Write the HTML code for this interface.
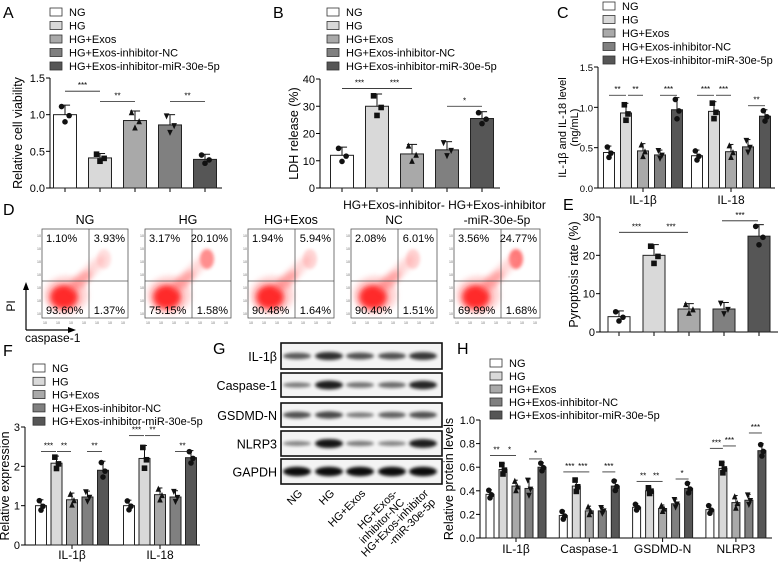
<!DOCTYPE html>
<html><head><meta charset="utf-8">
<style>
body{margin:0;background:#fff;}
svg{display:block;font-family:"Liberation Sans",Arial,sans-serif;}
</style></head>
<body>
<svg id="fig" width="780" height="562" viewBox="0 0 780 562" xmlns="http://www.w3.org/2000/svg">
<defs>
<filter id="blur" x="-50%" y="-50%" width="200%" height="200%"><feGaussianBlur stdDeviation="3"/></filter>
<filter id="blur2" x="-50%" y="-50%" width="200%" height="200%"><feGaussianBlur stdDeviation="1.6"/></filter>
</defs>
</svg>
<script>
const NS="http://www.w3.org/2000/svg";
const fig=document.getElementById('fig');
const groupNames=["NG","HG","HG+Exos","HG+Exos-inhibitor-NC","HG+Exos-inhibitor-miR-30e-5p"];
const colors=["#ffffff","#d9d9d9","#a9a9a9","#808080","#565656"];
const markers=["circle","square","triangle","tri-down","circle"];

// Panel A data
const aValues=[1.0,0.41,0.92,0.86,0.39];
const aErr=[0.13,0.06,0.13,0.14,0.07];
const aTicks=[0,0.5,1.0,1.5];
const aTickLabels=["0.0","0.5","1.0","1.5"];
// Panel B data
const bValues=[12,30,12.5,14,25.5];
const bErr=[3,4.5,3.5,3,2.5];
const bTicks=[0,10,20,30,40];
// Panel C data
const cCategories=["IL-1β","IL-18"];
const cValues=[[0.44,0.93,0.46,0.41,0.97],[0.40,0.95,0.45,0.51,0.89]];
const cErr=[[0.08,0.12,0.09,0.06,0.15],[0.07,0.12,0.09,0.09,0.08]];
const cTicks=[0,0.5,1.0,1.5];
const cTickLabels=["0.0","0.5","1.0","1.5"];
// Panel D data
const dTitles=[["NG"],["HG"],["HG+Exos"],["HG+Exos-inhibitor-","NC"],["HG+Exos-inhibitor","-miR-30e-5p"]];
const dUL=["1.10%","3.17%","1.94%","2.08%","3.56%"];
const dUR=["3.93%","20.10%","5.94%","6.01%","24.77%"];
const dLL=["93.60%","75.15%","90.48%","90.40%","69.99%"];
const dLR=["1.37%","1.58%","1.64%","1.51%","1.68%"];
// Panel E data
const eValues=[4,20,6,6,25];
const eErr=[1.5,2.8,1.4,1.7,3];
const eTicks=[0,10,20,30];
// Panel F data
const fCategories=["IL-1β","IL-18"];
const fValues=[[1.0,2.08,1.15,1.22,1.9],[1.0,2.2,1.28,1.22,2.22]];
const fErr=[[0.15,0.18,0.17,0.15,0.23],[0.14,0.33,0.17,0.16,0.18]];
const fTicks=[0,1,2,3];
// Panel G data
const gProteins=["IL-1β","Caspase-1","GSDMD-N","NLRP3","GAPDH"];
const gBandIntensity=[[0.55,0.8,0.6,0.6,0.75],[0.35,0.9,0.4,0.45,0.85],[0.6,0.65,0.35,0.5,0.6],[0.3,0.95,0.35,0.3,0.9],[1,1,1,1,1]];
// Panel H data
const hCategories=["IL-1β","Caspase-1","GSDMD-N","NLRP3"];
const hValues=[[0.37,0.58,0.44,0.42,0.60],[0.19,0.44,0.23,0.23,0.44],[0.26,0.40,0.25,0.29,0.42],[0.24,0.59,0.30,0.32,0.74]];
const hErr=[[0.04,0.05,0.05,0.08,0.04],[0.04,0.06,0.04,0.03,0.05],[0.03,0.03,0.03,0.04,0.05],[0.04,0.05,0.06,0.05,0.06]];
const hTicks=[0,0.2,0.4,0.6,0.8,1.0];
const hTickLabels=["0.0","0.2","0.4","0.6","0.8","1.0"];

function el(tag,attrs,parent){const e=document.createElementNS(NS,tag);for(const k in attrs)e.setAttribute(k,attrs[k]);(parent||fig).appendChild(e);return e;}
function txt(x,y,s,size,anchor,parent,extra){const t=el('text',Object.assign({x:x,y:y,'font-size':size,'text-anchor':anchor||'start',fill:'#000'},extra||{}),parent);t.textContent=s;return t;}

function panelLetter(x,y,s){const t=txt(x,y,s,16,'start');}

function legend(x,y0,dy){
  const g=el('g',{});
  
  
  for(let i=0;i<5;i++){
    const y=y0+i*dy;
    const r=el('rect',{x:x,y:y-7,width:12,height:8,fill:colors[i],stroke:'#333','stroke-width':0.8},g);
    
    
    const t=txt(x+19,y+1,groupNames[i],11,'start',g);
    
    
  }
}

function marker(type,x,y,g){
  const s=2.8;
  if(type==='circle') el('circle',{cx:x,cy:y,r:s,fill:'#111'},g);
  else if(type==='square') el('rect',{x:x-s,y:y-s,width:2*s,height:2*s,fill:'#111'},g);
  else if(type==='triangle') el('polygon',{points:`${x},${y-s-0.5} ${x-s},${y+s} ${x+s},${y+s}`,fill:'#111'},g);
  else el('polygon',{points:`${x},${y+s+0.5} ${x-s},${y-s} ${x+s},${y-s}`,fill:'#111'},g);
}

function yAxis(ax,ticks,labels,title,titleX,tickSize,titleSize){
  tickSize=tickSize||11;titleSize=titleSize||12.5;
  const g=el('g',{});
  
  
  el('line',{x1:ax.x0,y1:ax.y(ticks[0]),x2:ax.x0,y2:ax.y(ticks[ticks.length-1]),stroke:'#000','stroke-width':1},g);
  ticks.forEach((v,i)=>{
    el('line',{x1:ax.x0-4,y1:ax.y(v),x2:ax.x0,y2:ax.y(v),stroke:'#000'},g);
    txt(ax.x0-5,ax.y(v)+4,labels?labels[i]:String(v),tickSize,'end',g);
  });
  const cy=(ax.y(ticks[0])+ax.y(ticks[ticks.length-1]))/2;
  if(Array.isArray(title)){
    const t=txt(titleX,cy,title[0],titleSize,'middle',g,{transform:`rotate(-90 ${titleX} ${cy})`});
    
    
    const t2=txt(titleX+12,cy,title[1],titleSize,'middle',g,{transform:`rotate(-90 ${titleX+12} ${cy})`});
    
    
  } else {
    const t=txt(titleX,cy,title,titleSize,'middle',g,{transform:`rotate(-90 ${titleX} ${cy})`});
    
    
  }
}

function bar(ax,cx,w,v,err,i,g,name){
  const y0=ax.y(0),y=ax.y(v);
  const r=el('rect',{x:cx-w/2,y:y,width:w,height:y0-y,fill:colors[i],stroke:'#222','stroke-width':1},g);
  
  
  const ye=ax.y(v+err);
  el('line',{x1:cx,y1:y,x2:cx,y2:ye,stroke:'#111','stroke-width':1},g);
  el('line',{x1:cx-w*0.22,y1:ye,x2:cx+w*0.22,y2:ye,stroke:'#111','stroke-width':1},g);
  const pts=[v+err*0.85,v-err*0.1,v-err*0.75];
  const dx=[-0.5,0.6,0];
  pts.forEach((p,k)=>marker(markers[i],cx+dx[k]*w*0.3,ax.y(p),g));
}

function sig(x1,x2,y,s,g){
  el('line',{x1:x1,y1:y,x2:x2,y2:y,stroke:'#222','stroke-width':0.8},g);
  txt((x1+x2)/2,y-3,s,8,'middle',g);
}

// ---------- Panel A ----------
panelLetter(3,18,'A');
legend(50,15,13.5);
(function(){
  const ax={x0:50,y:v=>188-v/1.5*110};
  yAxis(ax,aTicks,aTickLabels,'Relative cell viability',22);
  const g=el('g',{});
  const xs=i=>65+i*35;
  el('line',{x1:50,y1:188,x2:222,y2:188,stroke:'#000'},g);
  aValues.forEach((v,i)=>{el('line',{x1:xs(i),y1:188,x2:xs(i),y2:192,stroke:'#000'},g);bar(ax,xs(i),23,v,aErr[i],i,g,'bar-a-'+i);});
  sig(65,100,ax.y(1.32),'***',g);sig(100,135,ax.y(1.18),'**',g);sig(170,205,ax.y(1.18),'**',g);
})();

// ---------- Panel B ----------
panelLetter(273,18,'B');
legend(327,15,13.5);
(function(){
  const ax={x0:320,y:v=>188-v/40*109};
  yAxis(ax,bTicks,null,'LDH release (%)',298);
  const g=el('g',{});
  const xs=i=>342+i*35;
  el('line',{x1:320,y1:188,x2:500,y2:188,stroke:'#000'},g);
  bValues.forEach((v,i)=>{el('line',{x1:xs(i),y1:188,x2:xs(i),y2:192,stroke:'#000'},g);bar(ax,xs(i),23,v,bErr[i],i,g,'bar-b-'+i);});
  sig(342,377,ax.y(36.5),'***',g);sig(377,412,ax.y(36.5),'***',g);sig(447,482,ax.y(30),'*',g);
})();

// ---------- Panel C ----------
panelLetter(557,18,'C');
legend(603,9,13.5);
(function(){
  const ax={x0:598,y:v=>188-v/1.5*121};
  yAxis(ax,cTicks,cTickLabels,['IL-1β and IL-18 level','(ng/mL)'],566,9.5,11);
  const g=el('g',{});
  el('line',{x1:598,y1:188,x2:775,y2:188,stroke:'#000'},g);
  cCategories.forEach((c,k)=>{
    const base=609+k*88;
    cValues[k].forEach((v,i)=>bar(ax,base+i*17,11,v,cErr[k][i],i,g,'bar-c-'+k+'-'+i));
    const cx=base+34;
    el('line',{x1:cx,y1:188,x2:cx,y2:192,stroke:'#000'},g);
    const t=txt(cx,204,c,12,'middle',g);
  });
  sig(609,626,ax.y(1.15),'**',g);sig(628,643,ax.y(1.15),'**',g);sig(660,677,ax.y(1.15),'***',g);
  sig(697,714,ax.y(1.15),'***',g);sig(716,731,ax.y(1.15),'***',g);sig(748,765,ax.y(1.02),'**',g);
})();

// ---------- Panel D ----------
panelLetter(3,215,'D');
(function(){
  const g=el('g',{});
  for(let i=0;i<5;i++){
    const L=42+i*103,T=229,W=86,H=89,vx=L+47,hy=281;
    const pg=el('g',{},g);
    
    
    const lines=dTitles[i];
    if(lines.length===1) txt(L+W/2,224,lines[0],12.5,'middle',pg);
    else {txt(L+W/2,209,lines[0],12,'middle',pg);txt(L+W/2,224,lines[1],12,'middle',pg);}
    const ur=[0.15,0.55,0.2,0.22,0.65][i];
    el('ellipse',{cx:L+24,cy:T+66,rx:22,ry:19,fill:'#ff8080',opacity:0.35,filter:'url(#blur)'},pg);
    el('ellipse',{cx:L+22,cy:T+68,rx:14,ry:12,fill:'#ff2020',opacity:0.95,filter:'url(#blur)'},pg);
    el('ellipse',{cx:L+38,cy:T+52,rx:14,ry:6,fill:'#ff6060',opacity:0.5,filter:'url(#blur)',transform:`rotate(-40 ${L+38} ${T+52})`},pg);
    el('ellipse',{cx:L+62,cy:T+30,rx:7,ry:10,fill:'#ff3030',opacity:ur,filter:'url(#blur2)'},pg);
    el('ellipse',{cx:L+50,cy:T+40,rx:18,ry:6,fill:'#ff9090',opacity:0.35,filter:'url(#blur)',transform:`rotate(-45 ${L+50} ${T+40})`},pg);
    el('rect',{x:L,y:T,width:W,height:H,fill:'none',stroke:'#555','stroke-width':0.8},pg);
    el('line',{x1:vx,y1:T,x2:vx,y2:T+H,stroke:'#555','stroke-width':0.8},pg);
    el('line',{x1:L,y1:hy,x2:L+W,y2:hy,stroke:'#555','stroke-width':0.8},pg);
    txt(L+4,T+13,dUL[i],11,'start',pg);
    txt(L+W-3,T+13,dUR[i],11,'end',pg);
    txt(L+4,T+H-4,dLL[i],11,'start',pg);
    txt(L+W-3,T+H-4,dLR[i],11,'end',pg);
    for(let k=0;k<7;k++){txt(L+3+k*13,T+H+6,'10',3.5,'middle',pg,{fill:'#666'});txt(L-3,T+H-3-k*13,'10',3.5,'middle',pg,{fill:'#666'});}
  }
  el('line',{x1:26,y1:330,x2:26,y2:287,stroke:'#000','stroke-width':1.2},g);
  el('polygon',{points:'26,282 23,290 29,290',fill:'#000'},g);
  el('line',{x1:26,y1:330,x2:70,y2:330,stroke:'#000','stroke-width':1.2},g);
  el('polygon',{points:'76,330 68,327 68,333',fill:'#000'},g);
  const pi=txt(15,306,'PI',12,'middle',g,{transform:'rotate(-90 15 306)'});
  
  const cs=txt(25,342,'caspase-1',12,'start',g);
  
})();

// ---------- Panel E ----------
panelLetter(563,210,'E');
(function(){
  const ax={x0:600,y:v=>332-v/30*115};
  yAxis(ax,eTicks,null,'Pyroptosis rate (%)',578);
  const g=el('g',{});
  const xs=i=>619+i*35;
  el('line',{x1:600,y1:332,x2:778,y2:332,stroke:'#000'},g);
  eValues.forEach((v,i)=>{el('line',{x1:xs(i),y1:332,x2:xs(i),y2:336,stroke:'#000'},g);bar(ax,xs(i),22,v,eErr[i],i,g,'bar-e-'+i);});
  sig(619,654,ax.y(26),'***',g);sig(654,688,ax.y(26),'***',g);sig(722,758,ax.y(29),'***',g);
})();

// ---------- Panel F ----------
panelLetter(3,356,'F');
legend(33,371,13.3);
(function(){
  const ax={x0:25,y:v=>545-v/3*118};
  yAxis(ax,fTicks,null,'Relative expression',9);
  const g=el('g',{});
  el('line',{x1:25,y1:545,x2:200,y2:545,stroke:'#000'},g);
  fCategories.forEach((c,k)=>{
    const base=41+k*88;
    fValues[k].forEach((v,i)=>bar(ax,base+i*15.5,11,v,fErr[k][i],i,g,'bar-f-'+k+'-'+i));
    const cx=base+31;
    el('line',{x1:cx,y1:545,x2:cx,y2:549,stroke:'#000'},g);
    const t=txt(cx,559,c,12,'middle',g);
  });
  sig(41,56,ax.y(2.38),'***',g);sig(57,71,ax.y(2.38),'**',g);sig(87,102,ax.y(2.38),'**',g);
  sig(129,144,ax.y(2.78),'***',g);sig(145,160,ax.y(2.78),'**',g);sig(175,190,ax.y(2.38),'**',g);
})();

// ---------- Panel G ----------
panelLetter(213,354,'G');
(function(){
  const g=el('g',{});
  const rows=[[343,369],[373,397],[403,427],[431,456],[459,484]];
  const lanes=[297,329,360,392,423];
  gProteins.forEach((p,r)=>{
    const [t,b]=rows[r];
    el('rect',{x:281,y:t,width:161,height:b-t,fill:'#f4f4f4',stroke:'#111','stroke-width':1.6},g);
    const cy=(t+b)/2;
    lanes.forEach((lx,l)=>{
      const a=gBandIntensity[r][l];
      const band=el('ellipse',{cx:lx,cy:cy,rx:14,ry:1.5+a*3.2,fill:'#000',opacity:0.25+a*0.7,filter:'url(#blur2)'},g);
      
      
    });
    const lt=txt(277,cy+5,p,12.5,'end',g);
    
  });
  const laneLabels=[["NG"],["HG"],["HG+Exos"],["HG+Exos-","inhibitor-NC"],["HG+Exos-inhibitor","-miR-30e-5p"]];
  laneLabels.forEach((ls,l)=>{
    const x=lanes[l]+6,y=494;
    ls.forEach((s,j)=>{
      const yy=y+j*9, xx=x+j*7;
      const t=txt(xx,yy,s,11,'end',g,{transform:`rotate(-45 ${xx} ${yy})`});
      
    });
  });
})();

// ---------- Panel H ----------
panelLetter(457,354,'H');
legend(490,366,13);
(function(){
  const ax={x0:480,y:v=>538-v*118};
  yAxis(ax,hTicks,hTickLabels,'Relative protein levels',453);
  const g=el('g',{});
  el('line',{x1:480,y1:538,x2:772,y2:538,stroke:'#000'},g);
  hCategories.forEach((c,k)=>{
    const base=490+k*73.3;
    hValues[k].forEach((v,i)=>bar(ax,base+i*13,8,v,hErr[k][i],i,g,'bar-h-'+k+'-'+i));
    const cx=base+26;
    el('line',{x1:cx,y1:538,x2:cx,y2:542,stroke:'#000'},g);
    const t=txt(cx,553,c,12,'middle',g);
  });
  const S=[[['**',0,1,0.7],['*',1,2,0.7],['*',3,4,0.67]],[['***',0,1,0.56],['***',1,2,0.56],['***',3,4,0.56]],[['**',0,1,0.48],['**',1,2,0.48],['*',3,4,0.5]],[['***',0,1,0.76],['***',1,2,0.78],['***',3,4,0.89]]];
  S.forEach((arr,k)=>arr.forEach(s=>{const b=490+k*73.3;sig(b+s[1]*13,b+s[2]*13,ax.y(s[3]),s[0],g);}));
})();
</script>
</body></html>
